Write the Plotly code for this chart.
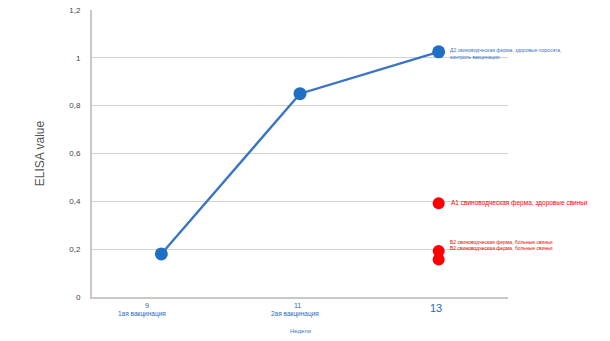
import plotly.graph_objects as go

weeks = ["9", "11", "13"]
week_notes = ["1ая вакцинация", "2ая вакцинация", ""]
d2_values = [0.18, 0.85, 1.025]
red_values = [0.392, 0.192, 0.157]
d2_label = "Д2 свиноводческая ферма, здоровые поросята,<br>контроль вакцинации"
red_labels = ["А1 свиноводческая ферма, здоровые свиньи",
              "Б2 свиноводческая ферма, больные свиньи",
              "В2 свиноводческая ферма, больные свиньи"]
y_ticks = [0, 0.2, 0.4, 0.6, 0.8, 1.0, 1.2]
y_ticktext = ["0", "0,2", "0,4", "0,6", "0,8", "1", "1,2"]

FONT = "Liberation Sans, Arial, sans-serif"
BLUE = "#3a75c4"
RED = "#ff0000"

xpos = list(range(len(weeks)))

fig = go.Figure()
fig.add_trace(go.Scatter(
    x=xpos, y=d2_values, mode="lines+markers",
    line=dict(color=BLUE, width=2.4),
    marker=dict(color="#1f6fc5", size=13),
    showlegend=False, hoverinfo="skip", cliponaxis=False))
fig.add_trace(go.Scatter(
    x=[xpos[-1]] * len(red_values), y=red_values, mode="markers",
    marker=dict(color=RED, size=12),
    showlegend=False, hoverinfo="skip", cliponaxis=False))

annotations = []
# x tick labels
for i, (w, n) in enumerate(zip(weeks, week_notes)):
    big = (i == len(weeks) - 1)
    annotations.append(dict(
        x=i, y=0, xref="x", yref="y", yshift=-3, xshift=-14 if i == 0 else -3,
        text=w, showarrow=False, yanchor="top", xanchor="center",
        font=dict(family=FONT, size=11 if big else 7, color="#2a68c0")))
    if n:
        annotations.append(dict(
            x=i, y=0, xref="x", yref="y", yshift=-11, xshift=-19 if i == 0 else -5,
            text=n, showarrow=False, yanchor="top", xanchor="center",
            font=dict(family=FONT, size=6.5, color="#2a68c0")))

# point labels
annotations.append(dict(
    x=xpos[-1], y=d2_values[-1], xref="x", yref="y", xshift=9, yshift=7,
    text=d2_label, showarrow=False, xanchor="left", yanchor="top", align="left",
    font=dict(family=FONT, size=5, color=BLUE)))
annotations.append(dict(
    x=xpos[-1], y=red_values[0], xref="x", yref="y", xshift=10, yshift=0,
    text=red_labels[0], showarrow=False, xanchor="left", yanchor="middle",
    font=dict(family=FONT, size=6.5, color=RED)))
annotations.append(dict(
    x=xpos[-1], y=red_values[1], xref="x", yref="y", xshift=9, yshift=9,
    text=red_labels[1], showarrow=False, xanchor="left", yanchor="middle",
    font=dict(family=FONT, size=5, color=RED)))
annotations.append(dict(
    x=xpos[-1], y=red_values[2], xref="x", yref="y", xshift=9, yshift=11,
    text=red_labels[2], showarrow=False, xanchor="left", yanchor="middle",
    font=dict(family=FONT, size=5, color=RED)))

# axis titles
annotations.append(dict(
    x=1, y=-0.118, xref="x", yref="paper", text="Недели", showarrow=False,
    xanchor="center", yanchor="middle", font=dict(family=FONT, size=6, color=BLUE)))

fig.update_layout(
    width=610, height=341,
    margin=dict(l=92, r=102, t=6, b=44),
    paper_bgcolor="white", plot_bgcolor="white",
    font=dict(family=FONT),
    annotations=annotations,
    xaxis=dict(range=[-0.5, 2.5], showticklabels=False, showgrid=False,
               zeroline=False, showline=True, linecolor="#c8c8c8", linewidth=2,
               ticks=""),
    yaxis=dict(range=[0, 1.2], tickvals=y_ticks, ticktext=y_ticktext,
               showgrid=True, gridcolor="#d2d2d2", gridwidth=1,
               zeroline=False, showline=True, linecolor="#c8c8c8", linewidth=2,
               ticks="", ticklabelstandoff=8, ticklabeloverflow="allow",
               tickfont=dict(family=FONT, size=8, color="#444444"),
               title=dict(text="ELISA value", standoff=22,
                          font=dict(family=FONT, size=12, color="#555555"))),
)

fig.write_html("out.html")
